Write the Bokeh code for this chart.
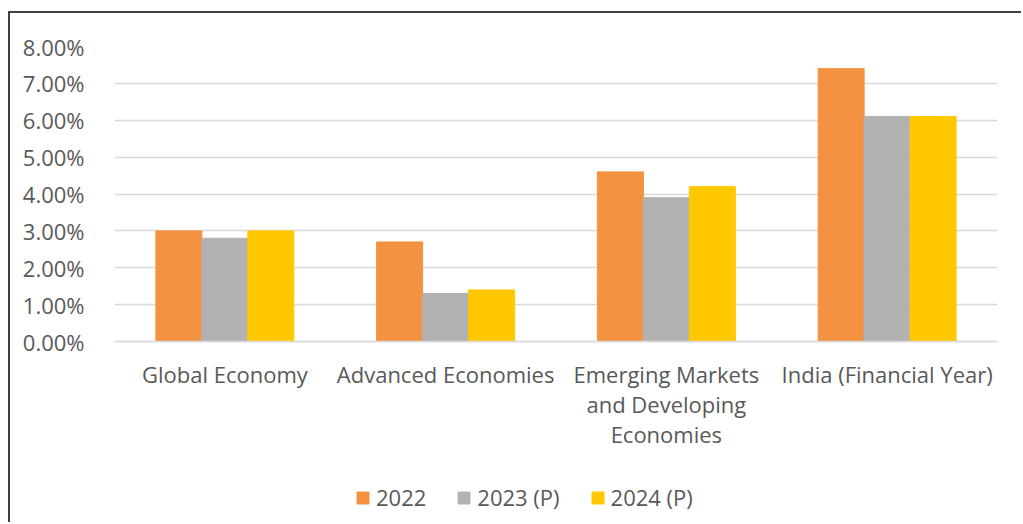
from bokeh.plotting import figure
from bokeh.models import ColumnDataSource, NumeralTickFormatter, FixedTicker, Legend, LegendItem, Range1d
from bokeh.transform import dodge
from bokeh.embed import file_html
from bokeh.resources import INLINE

categories = ["Global Economy", "Advanced Economies", "Emerging Markets\nand Developing\nEconomies", "India (Financial Year)"]
series_names = ["2022", "2023 (P)", "2024 (P)"]
values_2022 = [0.030, 0.027, 0.046, 0.074]
values_2023 = [0.028, 0.013, 0.039, 0.061]
values_2024 = [0.030, 0.014, 0.042, 0.061]
y_ticks = [0.00, 0.01, 0.02, 0.03, 0.04, 0.05, 0.06, 0.07, 0.08]

colors = ["#F39240", "#B2B2B2", "#FFC800"]
FONT = "Open Sans"
TXT = "#595959"

source = ColumnDataSource(dict(cat=categories, v2022=values_2022, v2023=values_2023, v2024=values_2024))

# frame spans from the 8% gridline down to the bottom of the canvas; the
# category axis sits at 0 and the legend lives in the space below it
H = 511
TOP = 33
plot_px = 295.0  # pixel height of the 0..8% band
frame_px = H - TOP
y_top = y_ticks[-1]
y_bottom = y_top - frame_px / plot_px * (y_ticks[-1] - y_ticks[0])

p = figure(x_range=categories, y_range=Range1d(y_bottom, y_top), width=1013, height=H,
           output_backend="svg", toolbar_location=None,
           min_border_left=104, min_border_right=26, min_border_top=TOP, min_border_bottom=0)
p.styles = {"border-top": "2px solid #404040", "border-left": "2px solid #404040",
            "margin-top": "11px", "margin-left": "8px"}
p.outline_line_color = None
p.background_fill_color = "white"
p.border_fill_color = "white"

bw = 0.2083
r1 = p.vbar(x=dodge("cat", -bw, range=p.x_range), top="v2022", width=bw, source=source,
            fill_color=colors[0], line_color=colors[0])
r2 = p.vbar(x=dodge("cat", 0, range=p.x_range), top="v2023", width=bw, source=source,
            fill_color=colors[1], line_color=colors[1])
r3 = p.vbar(x=dodge("cat", bw, range=p.x_range), top="v2024", width=bw, source=source,
            fill_color=colors[2], line_color=colors[2])

p.yaxis.ticker = FixedTicker(ticks=y_ticks)
p.yaxis.formatter = NumeralTickFormatter(format="0.00%")
p.yaxis.axis_line_color = None
p.yaxis.major_tick_line_color = None
p.yaxis.minor_tick_line_color = None
p.yaxis.major_label_standoff = 24
p.yaxis.major_label_text_font = FONT
p.yaxis.major_label_text_font_size = "22px"
p.yaxis.major_label_text_color = TXT

p.xaxis.fixed_location = 0
p.xaxis.axis_line_color = "#d9d9d9"
p.xaxis.axis_line_width = 1.5
p.xaxis.major_tick_line_color = None
p.xaxis.minor_tick_line_color = None
p.xaxis.major_label_standoff = 11
p.xaxis.major_label_text_font = FONT
p.xaxis.major_label_text_font_size = "22px"
p.xaxis.major_label_text_color = TXT
p.xaxis.major_label_text_line_height = 1.0

p.xgrid.grid_line_color = None
p.ygrid.grid_line_color = "#d9d9d9"
p.ygrid.grid_line_width = 1.5
p.ygrid.ticker = FixedTicker(ticks=y_ticks)

legend = Legend(items=[LegendItem(label=series_names[0], renderers=[r1]),
                       LegendItem(label=series_names[1], renderers=[r2]),
                       LegendItem(label=series_names[2], renderers=[r3])],
                location=(241, 12), orientation="horizontal",
                glyph_width=15, glyph_height=15, label_standoff=6, spacing=30,
                padding=0, margin=0, border_line_color=None, background_fill_alpha=0,
                label_text_font=FONT, label_text_font_size="22px", label_text_color=TXT)
p.add_layout(legend, "center")

open("out.html", "w").write(file_html(p, INLINE))
